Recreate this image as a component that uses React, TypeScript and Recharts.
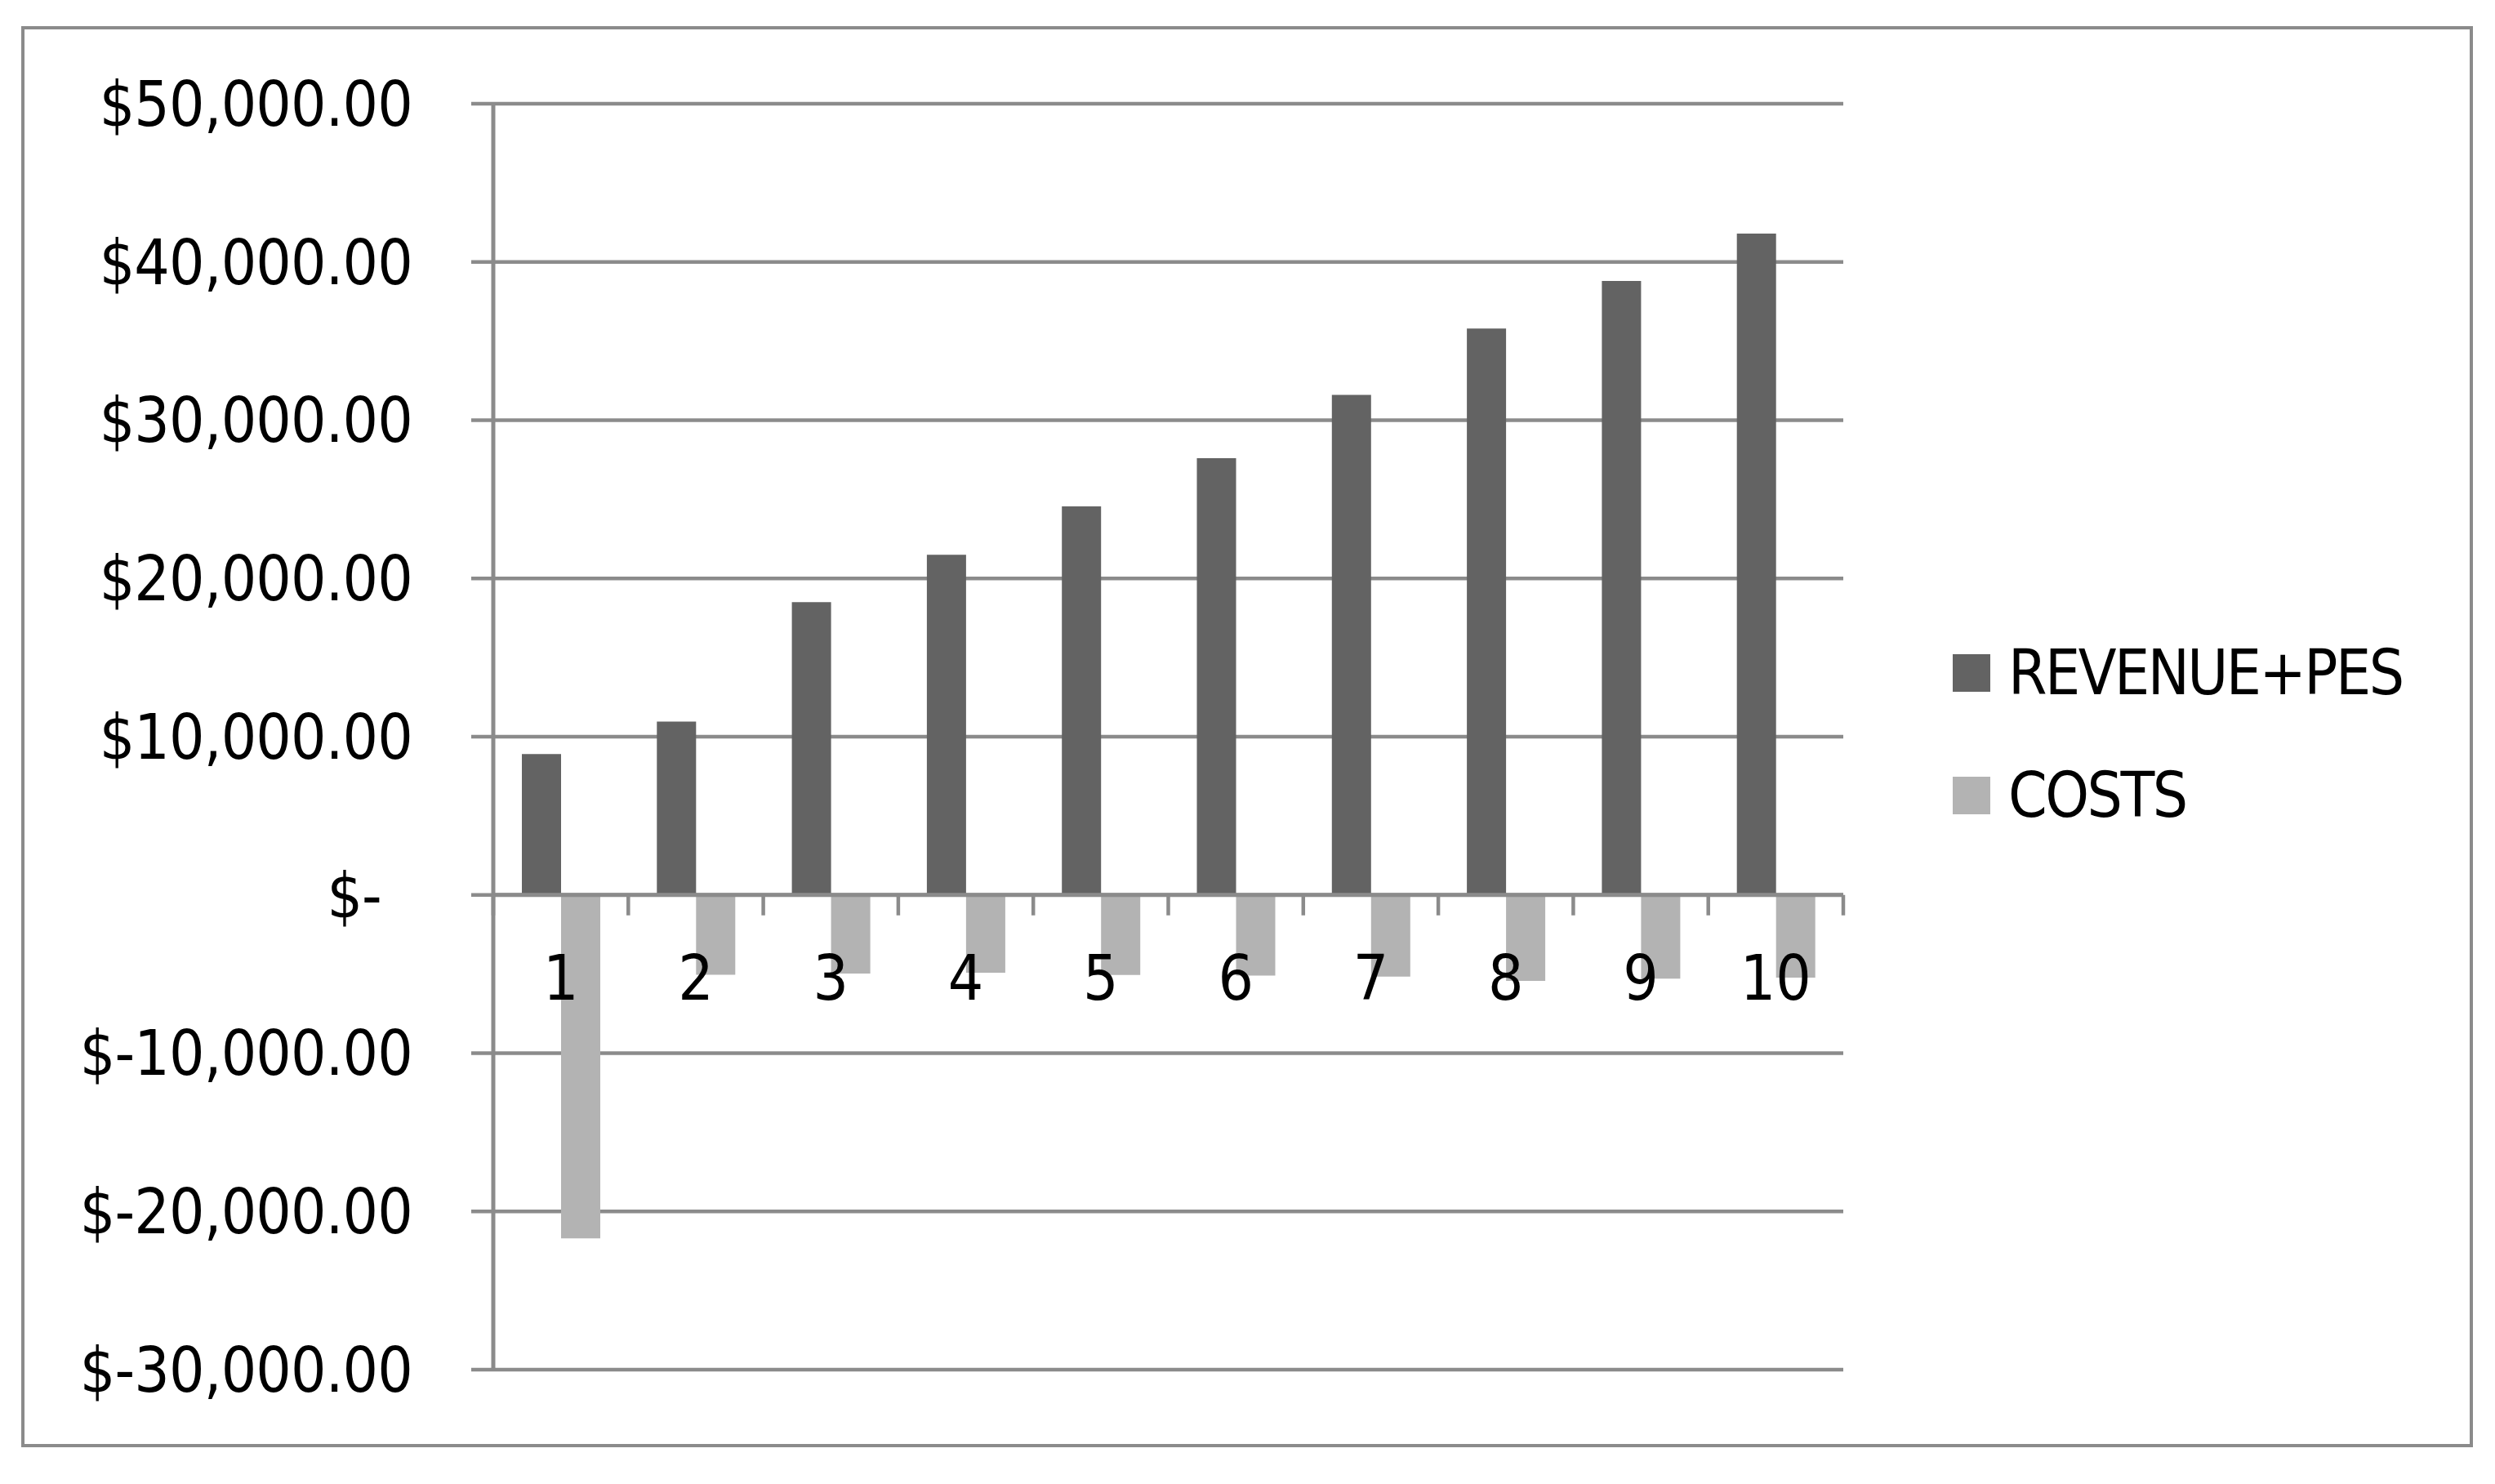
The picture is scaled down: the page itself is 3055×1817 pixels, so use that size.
import React from 'react';
import { BarChart, Bar, XAxis, YAxis, CartesianGrid, ReferenceLine, Legend } from 'recharts';

const categories = ['1', '2', '3', '4', '5', '6', '7', '8', '9', '10'];
const revenuePes = [8900, 10950, 18500, 21500, 24550, 27600, 31600, 35800, 38800, 41800];
const costs = [-21700, -5050, -4970, -4920, -5060, -5100, -5160, -5430, -5290, -5220];
const yTicks = [-30000, -20000, -10000, 0, 10000, 20000, 30000, 40000, 50000];
const seriesNames = ['REVENUE+PES', 'COSTS'];

const data = categories.map((c, i) => ({ year: c, revenue: revenuePes[i], costs: costs[i] }));

const W = 3055;
const H = 1817;
const PLOT_LEFT = 604;
const PLOT_RIGHT = 2257;
const PLOT_TOP = 127;
const PLOT_BOTTOM = 1677;
const Y_AXIS_W = 500;
const X_AXIS_H = 40;
const Y_MIN = -30000;
const Y_MAX = 50000;
const GRID = '#8b8b8b';
const FONT = "'Liberation Sans Narrow', 'Arial Narrow', 'DejaVu Sans Condensed', sans-serif";
const FONT_SIZE = 76;

const zeroY = PLOT_TOP + ((PLOT_BOTTOM - PLOT_TOP) * Y_MAX) / (Y_MAX - Y_MIN);
const band = (PLOT_RIGHT - PLOT_LEFT) / categories.length;

const fmt = (v: number) => {
  if (v === 0) return '$-';
  const abs = Math.abs(v).toLocaleString('en-US', { minimumFractionDigits: 2, maximumFractionDigits: 2 });
  return v < 0 ? `$-${abs}` : `$${abs}`;
};

const YTick = (props: any) => {
  const { x, y, payload } = props;
  const shift = payload.value === 0 ? -38 : 0;
  return (
    <text
      x={x + shift}
      y={y}
      dy="0.355em"
      textAnchor="end"
      fontFamily={FONT}
      fontSize={FONT_SIZE}
      letterSpacing={-0.8}
      fill="#000"
    >
      {fmt(payload.value)}
    </text>
  );
};

const XTick = (props: any) => {
  const { x, payload, index } = props;
  const last = index === categories.length - 1;
  return (
    <g>
      <line x1={x - band / 2} x2={x - band / 2} y1={zeroY} y2={zeroY + 25} stroke={GRID} strokeWidth={4.5} />
      {last && <line x1={x + band / 2} x2={x + band / 2} y1={zeroY} y2={zeroY + 25} stroke={GRID} strokeWidth={4.5} />}
      <text x={x} y={zeroY + 128} textAnchor="middle" fontFamily={FONT} fontSize={FONT_SIZE} fill="#000">
        {payload.value}
      </text>
    </g>
  );
};

const LegendContent = (props: any) => {
  const payload = [...(props.payload || [])].sort(
    (a: any, b: any) => seriesNames.indexOf(a.value) - seriesNames.indexOf(b.value)
  );
  return (
    <div style={{ fontFamily: FONT, fontSize: FONT_SIZE, lineHeight: 1, color: '#000', letterSpacing: -2.5 }}>
      {payload.map((p: any) => (
        <div key={p.value} style={{ height: 150, display: 'flex', alignItems: 'center' }}>
          <div style={{ width: 46, height: 46, background: p.color, marginRight: 22 }} />
          <span>{p.value}</span>
        </div>
      ))}
    </div>
  );
};

export default function App() {
  return (
    <div style={{ position: 'absolute', left: 0, top: 0, width: W, height: H, background: '#fff' }}>
      <div
        style={{
          position: 'absolute',
          left: 26,
          top: 32,
          width: 3028 - 26,
          height: 1772 - 32,
          boxSizing: 'border-box',
          border: `4px solid ${GRID}`,
        }}
      />
      <div style={{ position: 'absolute', left: 0, top: 0 }}>
        <BarChart
          width={W}
          height={H}
          data={data}
          margin={{
            top: PLOT_TOP,
            right: W - PLOT_RIGHT,
            bottom: H - PLOT_BOTTOM - X_AXIS_H,
            left: PLOT_LEFT - Y_AXIS_W,
          }}
          barGap={0}
        >
          <CartesianGrid vertical={false} stroke={GRID} strokeWidth={4.5} />
          <YAxis
            type="number"
            domain={[Y_MIN, Y_MAX]}
            ticks={yTicks}
            interval={0}
            width={Y_AXIS_W}
            axisLine={{ stroke: GRID, strokeWidth: 5 }}
            tickLine={{ stroke: GRID, strokeWidth: 4.5 }}
            tickSize={27}
            tickMargin={72}
            tick={<YTick />}
          />
          <Bar dataKey="revenue" name={seriesNames[0]} fill="#636363" barSize={48} isAnimationActive={false} />
          <Bar dataKey="costs" name={seriesNames[1]} fill="#b3b3b3" barSize={48} isAnimationActive={false} />
          <ReferenceLine y={0} stroke={GRID} strokeWidth={5} />
          <XAxis
            dataKey="year"
            height={X_AXIS_H}
            axisLine={false}
            tickLine={false}
            interval={0}
            tick={<XTick />}
          />
          <Legend
            layout="vertical"
            align="center"
            verticalAlign="middle"
            itemSorter={null as any}
            content={<LegendContent />}
            wrapperStyle={{ left: 2391, top: 749, width: 620 }}
          />
        </BarChart>
      </div>
    </div>
  );
}
